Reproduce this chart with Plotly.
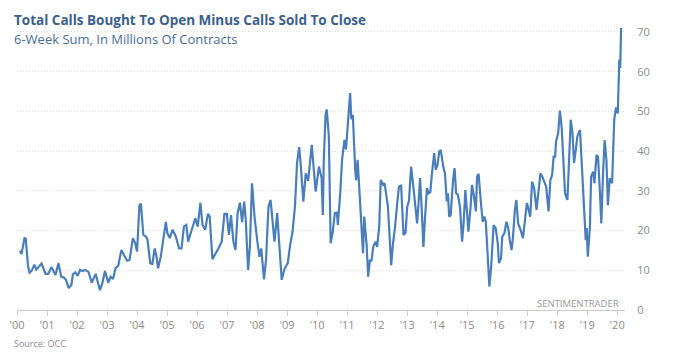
import plotly.graph_objects as go
from datetime import datetime, timedelta

# Decimal-year dates and 6-week sums (millions of contracts)
YEARS = [
    2000.10, 2000.15, 2000.25, 2000.29, 2000.37, 2000.42, 2000.49, 2000.58, 2000.645, 2000.82,
    2000.95, 2001.04, 2001.14, 2001.21, 2001.28, 2001.38, 2001.47, 2001.56, 2001.63, 2001.72,
    2001.81, 2001.86, 2001.94, 2002.02, 2002.10, 2002.18, 2002.27, 2002.38, 2002.49, 2002.62,
    2002.69, 2002.76, 2002.84, 2002.93, 2003.04, 2003.12, 2003.20, 2003.28, 2003.37, 2003.48,
    2003.56, 2003.67, 2003.75, 2003.86, 2003.94, 2004.00, 2004.08, 2004.13, 2004.21, 2004.30,
    2004.35, 2004.44, 2004.51, 2004.59, 2004.65, 2004.70, 2004.79, 2004.88, 2004.93,
    2004.96, 2005.01, 2005.09, 2005.18, 2005.29, 2005.40, 2005.48, 2005.56, 2005.64, 2005.70,
    2005.84, 2005.94, 2006.02, 2006.11, 2006.18, 2006.27, 2006.36, 2006.42, 2006.51, 2006.60,
    2006.71, 2006.82, 2006.91, 2006.99, 2007.06, 2007.13, 2007.21, 2007.28, 2007.35, 2007.43,
    2007.50, 2007.57, 2007.62, 2007.70, 2007.76, 2007.83, 2007.92, 2008.01, 2008.08, 2008.14,
    2008.23, 2008.30, 2008.38, 2008.45, 2008.52, 2008.58, 2008.67, 2008.74, 2008.82, 2008.91,
    2009.02, 2009.10, 2009.18, 2009.26, 2009.33, 2009.40, 2009.44, 2009.54, 2009.62, 2009.70,
    2009.76, 2009.82, 2009.87, 2009.95,
    2010.06, 2010.15, 2010.19, 2010.22, 2010.28, 2010.32, 2010.39, 2010.45, 2010.52, 2010.59,
    2010.66, 2010.69, 2010.77, 2010.83, 2010.91, 2010.96, 2010.99, 2011.05, 2011.10, 2011.14,
    2011.19, 2011.27, 2011.30, 2011.35, 2011.40, 2011.48, 2011.53, 2011.57, 2011.65, 2011.70,
    2011.76, 2011.81, 2011.87, 2011.95, 2012.00, 2012.07, 2012.12, 2012.20, 2012.25, 2012.36,
    2012.44, 2012.47, 2012.53, 2012.60, 2012.67, 2012.73, 2012.80, 2012.88, 2012.95, 2013.00,
    2013.06, 2013.13, 2013.21, 2013.28, 2013.33, 2013.38, 2013.43, 2013.48, 2013.54, 2013.59,
    2013.66, 2013.71, 2013.77, 2013.82, 2013.90, 2013.95, 2014.01, 2014.07, 2014.12, 2014.20,
    2014.26, 2014.32, 2014.36, 2014.40, 2014.45, 2014.53, 2014.58, 2014.63, 2014.69, 2014.76,
    2014.83, 2014.88, 2014.94, 2014.99, 2015.04, 2015.11,
    2015.16, 2015.22, 2015.29, 2015.33, 2015.38, 2015.47, 2015.52, 2015.57, 2015.62, 2015.68,
    2015.74, 2015.80, 2015.88, 2015.95, 2016.02, 2016.06, 2016.13, 2016.17, 2016.24, 2016.31,
    2016.37, 2016.42, 2016.48, 2016.53, 2016.59, 2016.64, 2016.70, 2016.78, 2016.86, 2016.94,
    2016.99, 2017.05, 2017.10, 2017.16, 2017.23, 2017.31, 2017.39, 2017.44, 2017.50, 2017.55,
    2017.63, 2017.71, 2017.77, 2017.83, 2017.88, 2017.93, 2017.96, 2018.03, 2018.09, 2018.15,
    2018.21, 2018.26, 2018.34, 2018.40, 2018.45, 2018.51, 2018.56, 2018.62, 2018.67, 2018.76,
    2018.82, 2018.89, 2018.95, 2018.98, 2019.02, 2019.09, 2019.13, 2019.20, 2019.24, 2019.31,
    2019.36, 2019.42, 2019.47, 2019.53, 2019.58, 2019.64, 2019.69, 2019.75, 2019.83, 2019.90,
    2019.96, 2020.02, 2020.07, 2020.10, 2020.13,
]

CALLS = [
    14.9, 14.1, 18.1, 18.0, 10.9, 9.4, 9.9, 11.4, 10.2, 11.7,
    9.1, 9.1, 10.8, 9.6, 8.8, 11.8, 8.4, 8.2, 7.6, 5.5,
    6.3, 9.0, 9.5, 8.6, 10.1, 9.8, 10.1, 9.6, 6.9, 9.1,
    6.9, 5.0, 6.7, 9.8, 6.9, 8.4, 7.8, 10.5, 11.1, 15.1,
    13.9, 12.4, 12.6, 18.1, 16.8, 14.7, 26.4, 26.7, 18.9, 18.5,
    17.6, 11.8, 11.6, 15.5, 13.4, 10.5, 13.4, 18.5, 20.8,
    22.2, 19.3, 18.1, 20.2, 18.5, 15.5, 15.5, 21.0, 21.4, 17.2,
    20.6, 23.1, 21.0, 27.0, 21.4, 20.2, 24.2, 23.5, 12.8, 13.9,
    15.5, 17.2, 24.2, 24.2, 18.9, 23.9, 17.2, 15.1, 24.4, 27.0,
    22.1, 27.3, 23.0, 10.1, 16.0, 31.9, 23.0, 17.2, 13.4, 15.5,
    7.7, 12.8, 26.0, 27.7, 21.0, 17.2, 24.4, 16.4, 7.6, 10.3,
    11.8, 16.4, 19.7, 26.0, 37.0, 41.0, 37.8, 27.3, 34.4, 32.5,
    37.8, 41.6, 37.0, 29.8,
    36.1, 33.2, 23.9, 37.4, 49.1, 50.5, 43.7, 16.8, 19.7, 24.4,
    24.5, 21.4, 29.4, 37.8, 42.8, 40.4, 43.4, 49.5, 54.6, 48.0,
    49.1, 35.3, 32.7, 37.8, 31.5, 21.0, 14.3, 23.5, 16.4, 8.4,
    12.6, 12.3, 15.9, 17.2, 15.9, 21.0, 32.7, 31.5, 31.9, 26.0,
    12.6, 11.3, 16.8, 21.0, 26.9, 31.1, 31.3, 18.9, 19.5, 26.0,
    27.5, 36.1, 30.7, 26.0, 21.8, 27.0, 33.2, 26.0, 15.9, 22.7,
    30.7, 29.4, 29.7, 34.0, 39.5, 35.3, 36.5, 39.9, 40.3, 36.1,
    34.4, 27.3, 29.4, 23.5, 23.9, 32.7, 35.7, 29.4, 29.0, 26.0,
    17.2, 21.8, 30.2, 25.2, 19.7, 25.6,
    31.5, 29.0, 24.8, 33.6, 34.3, 26.0, 22.2, 23.5, 22.2, 14.3,
    5.9, 10.9, 21.4, 20.6, 16.8, 11.8, 13.0, 18.5, 19.3, 22.2,
    20.6, 17.6, 15.1, 18.5, 25.2, 27.7, 21.8, 20.2, 18.1, 23.5,
    26.9, 25.2, 23.5, 32.3, 30.7, 25.2, 30.2, 34.4, 33.6, 32.7,
    31.1, 24.8, 32.7, 34.0, 38.6, 38.6, 42.4, 44.5, 50.2, 45.8,
    34.4, 29.4, 27.7, 37.8, 47.9, 44.5, 37.0, 40.3, 43.7, 45.3,
    37.0, 25.2, 17.6, 20.6, 13.4, 21.0, 33.6, 34.8, 31.9, 39.0,
    38.6, 30.2, 21.8, 34.8, 42.8, 37.8, 26.4, 33.2, 31.9, 47.9,
    51.0, 49.5, 63.0, 60.9, 71.0,
]

Y_TICKS = [0, 10, 20, 30, 40, 50, 60, 70]


def to_date(y):
    yr = int(y)
    return datetime(yr, 1, 1) + timedelta(days=(y - yr) * 365.25)


dates = [to_date(y) for y in YEARS]

FONT = "Open Sans"
GRAY = "#8c8c8c"

fig = go.Figure()
fig.add_trace(go.Scatter(
    x=dates, y=CALLS, mode="lines",
    line=dict(color="#4a7ebb", width=2.2),
    hoverinfo="skip", showlegend=False,
))

L, T, W, H = 9, 22, 616, 288


def px(x):
    return (x - L) / W


def py(y):
    return (T + H - y) / H


fig.update_layout(
    width=673, height=356,
    margin=dict(l=L, r=673 - L - W, t=T, b=356 - T - H),
    paper_bgcolor="white", plot_bgcolor="white",
    font=dict(family=FONT, color=GRAY),
    xaxis=dict(
        type="date",
        range=["2000-01-01", "2020-04-05"],
        tick0="2000-01-01", dtick="M12", tickformat="'%y",
        ticks="outside", ticklen=5, tickcolor="#cccccc",
        showline=True, linecolor="#cccccc", linewidth=1,
        showgrid=False, zeroline=False,
        tickfont=dict(family=FONT, size=11, color=GRAY),
    ),
    yaxis=dict(
        side="right", range=[0, 72.5],
        tickvals=Y_TICKS,
        showgrid=True, gridcolor="#dedede", griddash="1px,2px", gridwidth=1,
        zeroline=False, showline=False,
        ticks="outside", ticklen=9, tickcolor="rgba(0,0,0,0)",
        tickfont=dict(family=FONT, size=11, color=GRAY),
    ),
    annotations=[
        dict(text="<b>Total Calls Bought To Open Minus Calls Sold To Close</b>",
             xref="paper", yref="paper", x=px(4), y=py(20),
             xanchor="left", yanchor="middle", showarrow=False,
             font=dict(family=FONT, size=13.5, color="#3b5f8e")),
        dict(text="6-Week Sum, In Millions Of Contracts",
             xref="paper", yref="paper", x=px(4), y=py(39),
             xanchor="left", yanchor="middle", showarrow=False,
             font=dict(family=FONT, size=13, color="#4a6d9c")),
        dict(text="SENTIMENTRADER",
             xref="paper", yref="paper", x=px(621), y=py(303),
             xanchor="right", yanchor="middle", showarrow=False,
             font=dict(family=FONT, size=9.5, color="#999999")),
        dict(text="Source: OCC",
             xref="paper", yref="paper", x=px(4), y=py(343),
             xanchor="left", yanchor="middle", showarrow=False,
             font=dict(family=FONT, size=9, color="#8c8c8c")),
    ],
)

fig.write_html("out.html", config={"displayModeBar": False},
               post_script="document.body.style.margin='0px';")
